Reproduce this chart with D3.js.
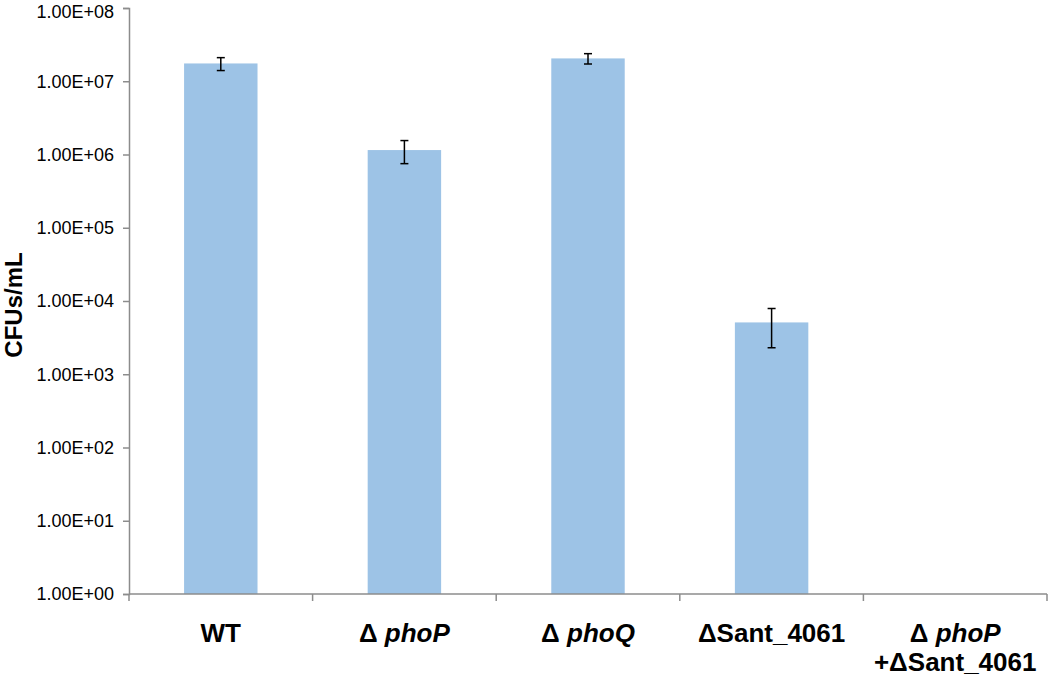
<!DOCTYPE html>
<html>
<head>
<meta charset="utf-8">
<script src="https://cdn.jsdelivr.net/npm/d3@7"></script>
<style>
  body { margin: 0; background: #fff; }
  text { font-family: "Liberation Sans", Arial, Helvetica, sans-serif; }
</style>
</head>
<body>
<div id="chart"></div>
<script>
// data
const strains = ['WT', 'dphoP', 'dphoQ', 'dSant', 'dphoPdSant']
const cfus = [1.75e7, 1.15e6, 2.05e7, 5.1e3, 0]
const errs = [0.35e7, 0.4e6, 0.33e7, 2.8e3, 0]
// label parts: [text, italic] per line
const labelLines = [
  [[['WT', false]]],
  [[['\u0394 ', false], ['phoP', true]]],
  [[['\u0394 ', false], ['phoQ', true]]],
  [[['\u0394Sant_4061', false]]],
  [[['\u0394 ', false], ['phoP', true]], [['+\u0394Sant_4061', false]]]
]
const yTicks = [1, 1e1, 1e2, 1e3, 1e4, 1e5, 1e6, 1e7, 1e8]

let w = 1050, h = 676,
  margin = { left: 129, right: 3, top: 8, bottom: 82 }

let svg = d3.select('#chart')
  .append('svg')
  .attr('width', w)
  .attr('height', h)

let x = d3.scaleBand()
  .domain(strains)
  .range([margin.left, w - margin.right])
  .paddingInner(0.6)
  .paddingOuter(0.3)

let y = d3.scaleLog()
  .domain([1, 1e8])
  .range([h - margin.bottom, margin.top])

const axisColor = '#8c8c8c'

// bars (zero values have no bar on a log scale)
let bars = strains.map((s, i) => ({ s, v: cfus[i], e: errs[i] })).filter(d => d.v > 0)

svg.append('g')
  .selectAll('rect')
  .data(bars)
  .enter()
  .append('rect')
  .attr('x', d => x(d.s))
  .attr('width', x.bandwidth())
  .attr('y', d => y(d.v))
  .attr('height', d => y(1) - y(d.v))
  .attr('fill', '#9dc3e6')

// error bars
let eb = svg.append('g')
  .attr('stroke', '#000')
  .attr('stroke-width', 1.5)
  .selectAll('g')
  .data(bars)
  .enter()
  .append('g')
  .attr('transform', d => `translate(${x(d.s) + x.bandwidth() / 2},0)`)

eb.append('line')
  .attr('y1', d => y(d.v + d.e))
  .attr('y2', d => y(d.v - d.e))
eb.append('line')
  .attr('x1', -4).attr('x2', 4)
  .attr('y1', d => y(d.v + d.e)).attr('y2', d => y(d.v + d.e))
eb.append('line')
  .attr('x1', -4).attr('x2', 4)
  .attr('y1', d => y(d.v - d.e)).attr('y2', d => y(d.v - d.e))

// y axis
let yAxis = svg.append('g')
  .attr('transform', `translate(${margin.left},0)`)
  .call(d3.axisLeft(y)
    .tickValues(yTicks)
    .tickSize(6)
    .tickPadding(9)
    .tickFormat(d => '1.00E+' + String(Math.round(Math.log10(d))).padStart(2, '0')))

yAxis.select('.domain').attr('stroke', axisColor).attr('stroke-width', 1.5)
yAxis.selectAll('.tick line').attr('stroke', axisColor).attr('stroke-width', 1.5)
yAxis.selectAll('.tick text')
  .attr('fill', '#000')
  .style('font-size', '18px')
// keep the top label inside the page
yAxis.selectAll('.tick text')
  .filter(d => d === 1e8)
  .attr('dy', '0.5em')

// x axis
let xAxis = svg.append('g')
  .attr('transform', `translate(0,${y(1)})`)

xAxis.append('line')
  .attr('x1', margin.left).attr('x2', w - margin.right)
  .attr('stroke', axisColor).attr('stroke-width', 1.5)

// category boundaries
let bounds = strains.map((s, i) => margin.left + x.step() * i).concat([w - margin.right])

xAxis.selectAll('.xt')
  .data(bounds)
  .enter()
  .append('line')
  .attr('class', 'xt')
  .attr('x1', d => d).attr('x2', d => d)
  .attr('y1', 0).attr('y2', 7)
  .attr('stroke', axisColor).attr('stroke-width', 1.5)

// x labels
strains.forEach((s, i) => {
  let lines = labelLines[i]
  let t = svg.append('text')
    .attr('text-anchor', 'middle')
    .attr('font-weight', 'bold')
    .style('font-size', '26px')
    .attr('fill', '#000')
  lines.forEach((parts, li) => {
    parts.forEach((p, pi) => {
      let ts = t.append('tspan').text(p[0])
      if (pi === 0) ts.attr('x', x(s) + x.bandwidth() / 2).attr('y', 642 + li * 29)
      if (p[1]) ts.attr('font-style', 'italic')
    })
  })
})

// y title
svg.append('text')
  .attr('transform', `translate(22,305) rotate(-90)`)
  .attr('text-anchor', 'middle')
  .attr('font-weight', 'bold')
  .style('font-size', '24px')
  .text('CFUs/mL')
</script>
</body>
</html>
